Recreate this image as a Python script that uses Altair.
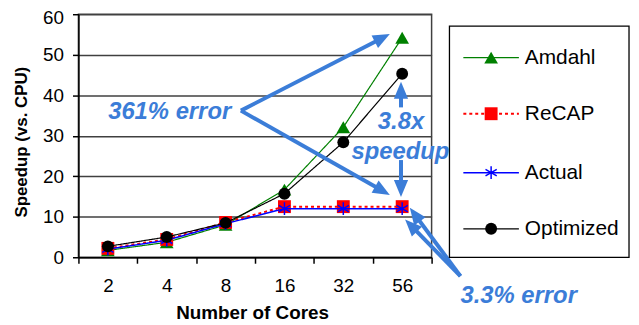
import json
import math
import altair as alt
import pandas as pd

# ---------------- data ----------------
cores = ["2", "4", "8", "16", "32", "56"]
series_names = ["Amdahl", "ReCAP", "Actual", "Optimized"]
amdahl = [1.7, 3.7, 8.0, 16.7, 32.1, 54.2]
recap = [2.2, 4.4, 8.6, 12.5, 12.5, 12.5]
actual = [2.0, 4.2, 8.3, 12.0, 12.0, 12.0]
optimized = [2.7, 5.0, 8.5, 15.7, 28.4, 45.3]
y_ticks = [0, 10, 20, 30, 40, 50, 60]

# annotations (data coordinates)
ann_texts = ["361% error", "3.8x", "speedup", "3.3% error"]
ann_x = [1.55, 5.48, 5.47, 7.48]
ann_y = [35.8, 33.3, 26.0, -9.55]
# arrows: (x0, y0, x1=tip, y1=tip)
arrows = [
    (2.76, 36.2, 5.29, 55.1),
    (2.76, 36.2, 5.29, 15.4),
    (5.48, 37.0, 5.48, 43.3),
    (5.48, 24.0, 5.48, 14.9),
    (6.49, -4.65, 5.63, 12.2),
    (6.49, -4.65, 5.55, 9.3),
]

W, H = 356, 245
XMAX, YMAX = 6, 60
BLUE = "#3b7dd8"
FONT = "Liberation Sans"

values = {"Amdahl": amdahl, "ReCAP": recap, "Actual": actual, "Optimized": optimized}
rows = []
for s in series_names:
    for i, v in enumerate(values[s]):
        rows.append({"series": s, "pos": i + 0.5, "cores": cores[i], "value": v})
df = pd.DataFrame(rows)

styles = {
    "Amdahl": dict(color="#008000", width=1.2, dash=[1, 0], shape="triangle-up", size=190, filled=True),
    "ReCAP": dict(color="#ff0000", width=2, dash=[3, 3], shape="square", size=169, filled=True),
    "Actual": dict(color="#0000ff", width=1.5, dash=[1, 0],
                   shape="M0,-1L0,1M-0.87,-0.5L0.87,0.5M-0.87,0.5L0.87,-0.5", size=169, filled=False),
    "Optimized": dict(color="#000000", width=1.2, dash=[1, 0], shape="circle", size=144, filled=True),
}

x_scale = alt.Scale(domain=[0, XMAX], nice=False, zero=False)
y_scale = alt.Scale(domain=[0, YMAX], nice=False)

label_expr = f"datum.value % 1 == 0.5 ? {json.dumps(cores)}[floor(datum.value)] : ''"
x_axis = alt.Axis(
    values=[i / 2 for i in range(13)],
    labelExpr=label_expr,
    tickOpacity={"condition": {"test": "datum.value % 1 == 0", "value": 1}, "value": 0},
    tickSize=6, tickColor="black", tickWidth=1.5,
    labelPadding=14, labelFontSize=19, labelColor="black", labelOverlap=False, labelFlush=False,
    grid=False, domainColor="black", domainWidth=1.5,
    title="Number of Cores", titleFontSize=19, titleFontWeight="bold", titleColor="black",
    titleX=175, titleY=46.5, titleBaseline="top",
)
y_axis = alt.Axis(
    values=y_ticks, tickSize=6, tickColor="black", tickWidth=1.5,
    labelPadding=9, labelFontSize=19, labelColor="black", labelFlush=False,
    labelOffset={"condition": {"test": "datum.value == 60", "value": 3}, "value": 0},
    grid=True, gridColor="#404040", gridWidth=1.5,
    domainColor="black", domainWidth=1.5,
    title="Speedup (vs. CPU)", titleFontSize=17, titleFontWeight="bold", titleColor="black",
    titleX=-48, titleY=128.5,
)


def X(field):
    return alt.X(field, scale=x_scale, axis=x_axis)


def Y(field):
    return alt.Y(field, scale=y_scale, axis=y_axis)


layers = []
for s in series_names:
    st = styles[s]
    sub = df[df["series"] == s]
    line = alt.Chart(sub).mark_line(color=st["color"], strokeWidth=st["width"], strokeDash=st["dash"]).encode(
        x=X("pos:Q"), y=Y("value:Q"), order="pos:Q")
    pt = alt.Chart(sub).mark_point(shape=st["shape"], size=st["size"], filled=st["filled"],
                                   color=st["color"], opacity=1,
                                   strokeWidth=1.5 if not st["filled"] else 0.5).encode(
        x=X("pos:Q"), y=Y("value:Q"))
    layers += [line, pt]

# ---------- arrows ----------
arr_rows = []
for (x0, y0, x1, y1) in arrows:
    dxp = (x1 - x0) * W / XMAX
    dyp = -(y1 - y0) * H / YMAX
    L = math.hypot(dxp, dyp)
    k = 9.0 / L
    ang = math.degrees(math.atan2(dxp, -dyp)) % 360
    arr_rows.append({"x0": x0, "y0": y0, "xe": x1 - (x1 - x0) * k, "ye": y1 - (y1 - y0) * k,
                     "tx": x1, "ty": y1, "ang": ang})
arr_df = pd.DataFrame(arr_rows)

arrow_lines = alt.Chart(arr_df).mark_rule(color=BLUE, strokeWidth=4).encode(
    x=X("x0:Q"), y=Y("y0:Q"), x2="xe:Q", y2="ye:Q")
arrow_heads = alt.Chart(arr_df).mark_point(
    shape="M0,0L0.42,1L-0.42,1Z", size=1156, filled=True, color=BLUE, opacity=1, strokeWidth=0).encode(
    x=X("tx:Q"), y=Y("ty:Q"),
    angle=alt.Angle("ang:Q", scale=None))

ann_df = pd.DataFrame({"text": ann_texts, "x": ann_x, "y": ann_y})
ann_text = alt.Chart(ann_df).mark_text(
    font=FONT, fontSize=24, fontWeight="bold", fontStyle="italic", color=BLUE,
    align="center", baseline="middle").encode(
    x=X("x:Q"), y=Y("y:Q"), text="text:N")

# ---------- legend ----------
legend_layers = []
legend_layers.append(alt.Chart(pd.DataFrame({"a": [0]})).mark_rect(
    fill="white", stroke="black", strokeWidth=1.3).encode(
    x=alt.value(374), x2=alt.value(555), y=alt.value(12), y2=alt.value(245)))
leg_rows = [43.7, 100.3, 159.7, 216.3]
for s, ry in zip(series_names, leg_rows):
    st = styles[s]
    d = pd.DataFrame({"label": [s]})
    legend_layers.append(alt.Chart(d).mark_rule(
        color=st["color"], strokeWidth=st["width"], strokeDash=st["dash"]).encode(
        x=alt.value(388), x2=alt.value(444), y=alt.value(ry)))
    legend_layers.append(alt.Chart(d).mark_point(
        shape=st["shape"], size=st["size"], filled=st["filled"], color=st["color"], opacity=1,
        strokeWidth=1.5 if not st["filled"] else 0.5).encode(
        x=alt.value(416), y=alt.value(ry)))
    legend_layers.append(alt.Chart(d).mark_text(
        font=FONT, fontSize=21, color="black", align="left", baseline="middle").encode(
        x=alt.value(450), y=alt.value(ry), text="label:N"))

chart = alt.layer(*layers, arrow_lines, arrow_heads, ann_text, *legend_layers).properties(
    width=W, height=H,
    autosize=alt.AutoSizeParams(type="none"),
    padding={"left": 71, "top": 5, "right": 201, "bottom": 67},
).configure(font=FONT).configure_view(stroke="#404040", strokeWidth=1.5)

chart.save("out.html", embed_options={"renderer": "svg", "actions": False})
